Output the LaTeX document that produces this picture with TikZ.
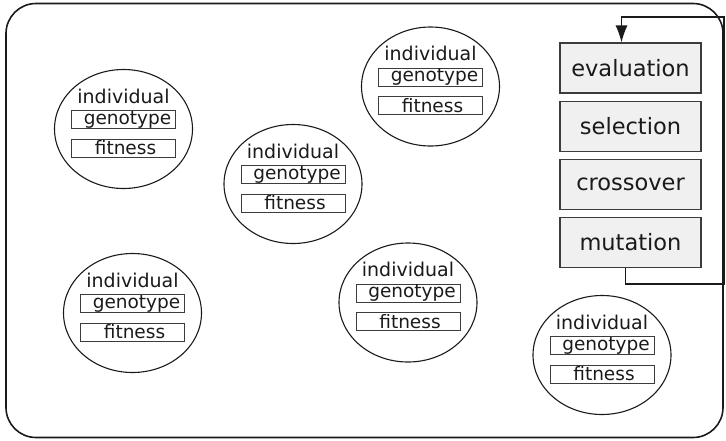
\documentclass[tikz,border=0pt]{standalone}
\usepackage{fontspec}
\setmainfont{DejaVu Sans}
\usepackage{tikz}
\usetikzlibrary{shapes.geometric,arrows.meta,positioning}

\definecolor{ink}{HTML}{1A1A1A}
\definecolor{boxfill}{HTML}{F0F0F0}

\begin{document}
\begin{tikzpicture}[
    x=1pt, y=-1pt,
    frame/.style={rectangle, draw=ink, line width=1.6pt, rounded corners=30pt, minimum width=717pt, minimum height=434pt},
    indiv/.style={ellipse, draw=ink, line width=1.1pt, minimum width=138pt, minimum height=119pt, inner sep=0pt},
    title/.style={text=ink, inner sep=0pt, font=\fontsize{19}{21}\selectfont},
    field/.style={rectangle, draw=ink!85, line width=1pt, minimum width=104pt, minimum height=18pt, inner sep=0pt, text=ink, font=\fontsize{18.5}{20}\selectfont},
    stage/.style={rectangle, draw=ink!85, fill=boxfill, line width=1.2pt, minimum width=141pt, minimum height=50pt, inner sep=0pt, text=ink, font=\fontsize{22.5}{24}\selectfont},
    arrow/.style={-{Latex[length=17pt,width=12pt]}, draw=ink, line width=1.2pt}
  ]
    \useasboundingbox (0,0) rectangle (726,440);
    \node[frame] (population) at (364.5,220.5) {};

    % individuals
    \node[indiv] (ind1) at (123.5,129) {};
    \node[title] (name1) at ([yshift=33pt]ind1.center) {individual};
    \node[field] (geno1) at ([yshift=9.5pt]ind1.center) {\hspace*{8pt}genotype};
    \node[field] (fit1) at ([yshift=-19pt]ind1.center) {\hspace*{4pt}fitness};

    \node[indiv] (ind2) at (293,184) {};
    \node[title] (name2) at ([yshift=33pt]ind2.center) {individual};
    \node[field] (geno2) at ([yshift=9.5pt]ind2.center) {\hspace*{8pt}genotype};
    \node[field] (fit2) at ([yshift=-19pt]ind2.center) {\hspace*{4pt}fitness};

    \node[indiv] (ind3) at (430.5,86.5) {};
    \node[title] (name3) at ([yshift=33pt]ind3.center) {individual};
    \node[field] (geno3) at ([yshift=9.5pt]ind3.center) {\hspace*{8pt}genotype};
    \node[field] (fit3) at ([yshift=-19pt]ind3.center) {\hspace*{4pt}fitness};

    \node[indiv] (ind4) at (132.5,313) {};
    \node[title] (name4) at ([yshift=33pt]ind4.center) {individual};
    \node[field] (geno4) at ([yshift=9.5pt]ind4.center) {\hspace*{8pt}genotype};
    \node[field] (fit4) at ([yshift=-19pt]ind4.center) {\hspace*{4pt}fitness};

    \node[indiv] (ind5) at (408,302.5) {};
    \node[title] (name5) at ([yshift=33pt]ind5.center) {individual};
    \node[field] (geno5) at ([yshift=9.5pt]ind5.center) {\hspace*{8pt}genotype};
    \node[field] (fit5) at ([yshift=-19pt]ind5.center) {\hspace*{4pt}fitness};

    \node[indiv] (ind6) at (602,355) {};
    \node[title] (name6) at ([yshift=33pt]ind6.center) {individual};
    \node[field] (geno6) at ([yshift=9.5pt]ind6.center) {\hspace*{8pt}genotype};
    \node[field] (fit6) at ([yshift=-19pt]ind6.center) {\hspace*{4pt}fitness};

    % operators
    \node[stage] (evaluation) at (630.5,68) {evaluation};
    \node[stage, below=7pt of evaluation] (selection) {selection};
    \node[stage, below=7pt of selection] (crossover) {crossover};
    \node[stage, below=7pt of crossover] (mutation) {mutation};

    \coordinate (loopbottom) at (724,284);
    \coordinate (looptop) at (724,17);
    \draw[arrow] ([xshift=-5pt]mutation.south) |- (loopbottom) -- (looptop) -| ([xshift=-9pt]evaluation.north);
  \end{tikzpicture}
\end{document}
